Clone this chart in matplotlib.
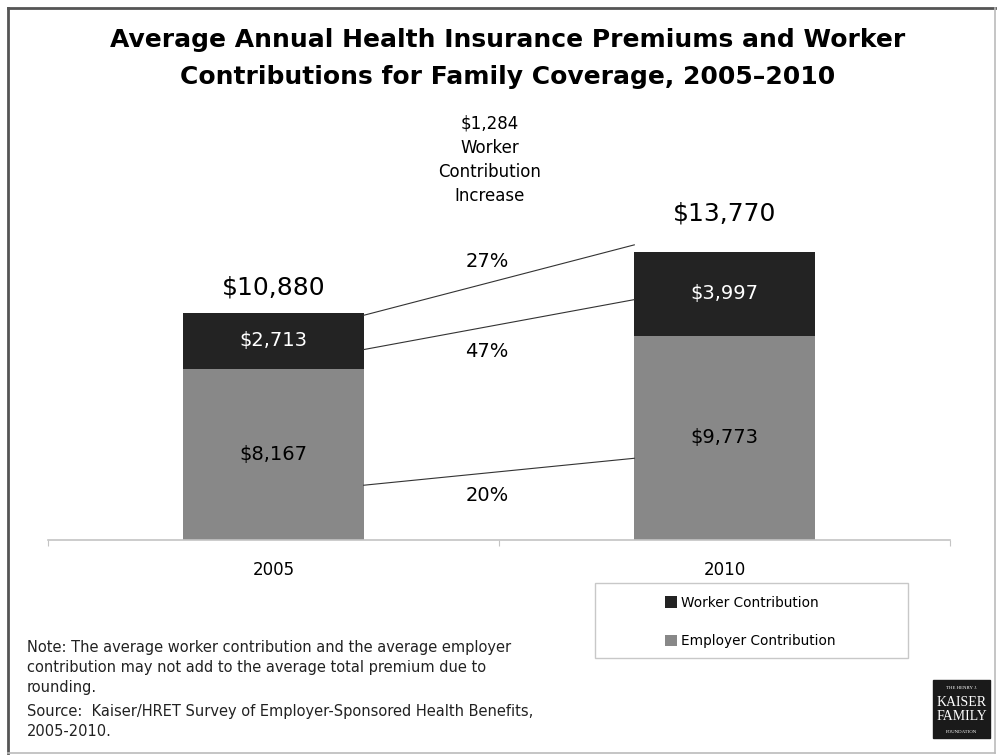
import matplotlib
import matplotlib.pyplot as plt
from matplotlib.patches import Rectangle
from matplotlib.lines import Line2D

matplotlib.use("Agg")

# premiums for family coverage, dollars
years = ["2005", "2010"]
employer = [8167, 9773]
worker = [2713, 3997]
totals = [10880, 13770]

# connector lines between the two bars (dollar levels at each end)
connector_start = [10750, 9110, 2620]
connector_end = [14120, 11500, 3910]
# where the percent-change labels sit (dollar level)
pct_label_y = [13300, 9000, 2150]

WORKER_COLOR = "#232323"
EMPLOYER_COLOR = "#888888"

plt.rcParams["font.family"] = ["DejaVu Sans"]

fig = plt.figure(figsize=(10, 7.55), dpi=100)
ax = fig.add_axes([0.048, 1 - 540 / 755, 0.902, 440 / 755])

x = [0, 1]
bar_w = 0.4
b_emp = ax.bar(x, employer, width=bar_w, color=EMPLOYER_COLOR, label="Employer Contribution")
b_wrk = ax.bar(x, worker, width=bar_w, bottom=employer, color=WORKER_COLOR,
               label="Worker Contribution")

ax.set_xlim(-0.5, 1.5)
ax.set_ylim(0, 21050)

for s in ["top", "right", "left"]:
    ax.spines[s].set_visible(False)
ax.spines["bottom"].set_color("#c4c4c4")
ax.spines["bottom"].set_linewidth(1.2)
ax.set_yticks([])
ax.set_xticks([-0.5, 0.5, 1.5])
ax.set_xticklabels([])
ax.tick_params(axis="x", which="major", length=4, color="#c4c4c4")
ax.set_xticks(x, minor=True)
ax.set_xticklabels(years, minor=True, fontsize=12)
ax.tick_params(axis="x", which="minor", length=0, pad=15)

# segment values
for i in range(2):
    ax.text(x[i], employer[i] / 2, f"${employer[i]:,}", ha="center", va="center",
            fontsize=14, color="black")
    ax.text(x[i], employer[i] + worker[i] / 2, f"${worker[i]:,}", ha="center",
            va="center", fontsize=14, color="white")

# totals above each bar
total_offsets = [18, 28]
for i in range(2):
    ax.annotate(f"${totals[i]:,}", (x[i], totals[i]), xytext=(0, total_offsets[i]),
                textcoords="offset points", ha="center", va="center", fontsize=18)

# growth connectors and percent labels
growth = [
    totals[1] / totals[0] - 1,
    worker[1] / worker[0] - 1,
    employer[1] / employer[0] - 1,
]
for k in range(3):
    ax.plot([x[0] + bar_w / 2, x[1] - bar_w / 2], [connector_start[k], connector_end[k]],
            color="#333333", lw=0.8)
    ax.text(0.473, pct_label_y[k], f"{growth[k]:.0%}", ha="center", va="center",
            fontsize=14)

increase = worker[1] - worker[0]
fig.text(0.49, 1 - 160 / 755, f"${increase:,}\nWorker\nContribution\nIncrease",
         ha="center", va="center", fontsize=12, linespacing=1.45)

# title
fig.text(0.508, 1 - 40 / 755, "Average Annual Health Insurance Premiums and Worker",
         ha="center", va="center", fontsize=18, fontweight="bold")
fig.text(0.508, 1 - 77 / 755, "Contributions for Family Coverage, 2005\u20132010",
         ha="center", va="center", fontsize=18, fontweight="bold")

# legend box
fig.patches.append(Rectangle((0.595, 1 - 658 / 755), 0.313, 75 / 755,
                             transform=fig.transFigure, fill=False,
                             edgecolor="#c8c8c8", lw=1))
fig.legend(handles=[b_wrk, b_emp], labels=["Worker Contribution", "Employer Contribution"],
           loc="center", bbox_to_anchor=(0.75, 1 - 622 / 755), frameon=False,
           fontsize=9.8, labelspacing=1.8, handlelength=0.9, handleheight=0.9,
           handletextpad=0.3)

# notes
fig.text(0.027, 1 - 640 / 755,
         "Note: The average worker contribution and the average employer\n"
         "contribution may not add to the average total premium due to\n"
         "rounding.",
         ha="left", va="top", fontsize=10.5, linespacing=1.4, color="#222222")
fig.text(0.027, 1 - 704 / 755,
         "Source:  Kaiser/HRET Survey of Employer-Sponsored Health Benefits,\n"
         "2005-2010.",
         ha="left", va="top", fontsize=10.5, linespacing=1.4, color="#222222")

# foundation mark
fig.patches.append(Rectangle((0.933, 1 - 738 / 755), 0.057, 58 / 755,
                             transform=fig.transFigure, color="#1a1a1a"))
logo_lines = [("THE HENRY J.", 3.5, 688), ("KAISER", 10, 702),
              ("FAMILY", 10, 717), ("FOUNDATION", 3.5, 732)]
for txt, size, py in logo_lines:
    fig.text(0.9615, 1 - py / 755, txt, ha="center", va="center", color="white",
             fontsize=size, family="Liberation Serif")

# outer frame: dark on top/left, light on bottom/right
fig.add_artist(Line2D([0.008, 0.995], [1 - 8 / 755, 1 - 8 / 755],
                      transform=fig.transFigure, color="#555555", lw=2))
fig.add_artist(Line2D([0.008, 0.008], [1 - 8 / 755, 1 - 753 / 755],
                      transform=fig.transFigure, color="#555555", lw=2))
fig.add_artist(Line2D([0.008, 0.995], [1 - 753 / 755, 1 - 753 / 755],
                      transform=fig.transFigure, color="#bbbbbb", lw=1.2))
fig.add_artist(Line2D([0.995, 0.995], [1 - 8 / 755, 1 - 753 / 755],
                      transform=fig.transFigure, color="#bbbbbb", lw=1.2))

fig.savefig("out.png", dpi=100)
plt.close(fig)
